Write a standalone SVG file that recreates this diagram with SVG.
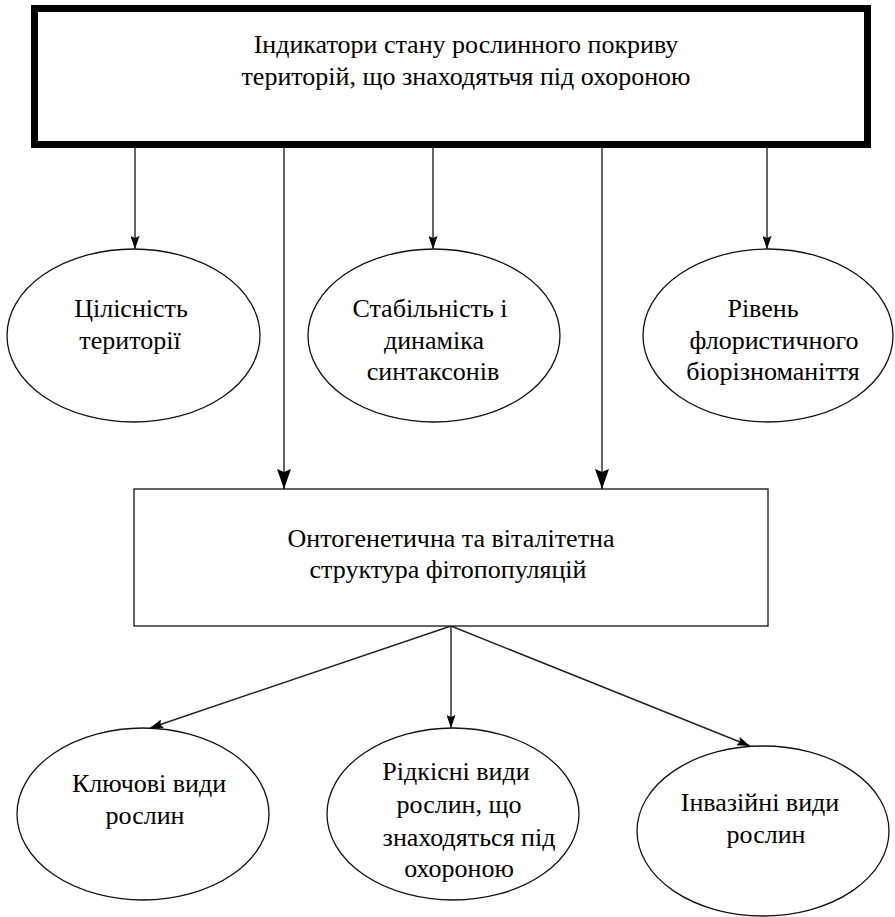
<svg xmlns="http://www.w3.org/2000/svg" width="895" height="917" viewBox="0 0 895 917">
  <defs>
    <style>
      .shape { fill: #fff; stroke: #111; stroke-width: 1.3; }
      .conn { stroke: #222; stroke-width: 1.4; fill: none; }
      .s { marker-end: url(#arrowS); }
      .l { marker-end: url(#arrowL); }
    </style>
    <marker id="arrowS" markerUnits="userSpaceOnUse" markerWidth="13" markerHeight="9" refX="13" refY="4.5" orient="auto">
      <path d="M0,0 L13,4.5 L0,9 L2,4.5 z" fill="#000"/>
    </marker>
    <marker id="arrowL" markerUnits="userSpaceOnUse" markerWidth="20" markerHeight="14" refX="20" refY="7" orient="auto">
      <path d="M0,0 L20,7 L0,14 L3,7 z" fill="#000"/>
    </marker>
  </defs>
  <rect width="895" height="917" fill="#fff"/>

  <g id="connectors">
    <line class="conn s" x1="135" y1="148" x2="135" y2="249"/>
    <line class="conn l" x1="284" y1="148" x2="284" y2="489"/>
    <line class="conn s" x1="433" y1="148" x2="433" y2="249"/>
    <line class="conn l" x1="602" y1="148" x2="602" y2="489"/>
    <line class="conn s" x1="767" y1="148" x2="767" y2="249"/>
    <line class="conn s" x1="451" y1="626" x2="150" y2="728"/>
    <line class="conn s" x1="451" y1="626" x2="451" y2="728"/>
    <line class="conn s" x1="451" y1="626" x2="750" y2="746"/>
  </g>

  <g id="top">
    <rect x="34.5" y="8.5" width="833" height="136" fill="#fff" stroke="#000" stroke-width="7"/>
    <text font-family="Liberation Serif" font-size="26" text-anchor="middle" x="466" y="53">Індикатори стану рослинного покриву</text>
    <text font-family="Liberation Serif" font-size="26" text-anchor="middle" x="466" y="85">територій, що знаходятьчя під охороною</text>
  </g>

  <g id="integrity">
    <ellipse class="shape" cx="133.5" cy="335.5" rx="126.5" ry="86.5"/>
    <text font-family="Liberation Serif" font-size="26" text-anchor="middle" x="131" y="317">Цілісність</text>
    <text font-family="Liberation Serif" font-size="26" text-anchor="middle" x="130" y="349">території</text>
  </g>

  <g id="stability">
    <ellipse class="shape" cx="434" cy="335.5" rx="126" ry="86.5"/>
    <text font-family="Liberation Serif" font-size="26" text-anchor="middle" x="430" y="317">Стабільність і</text>
    <text font-family="Liberation Serif" font-size="26" text-anchor="middle" x="434" y="349">динаміка</text>
    <text font-family="Liberation Serif" font-size="26" text-anchor="middle" x="433" y="380">синтаксонів</text>
  </g>

  <g id="diversity">
    <ellipse class="shape" cx="768" cy="335.5" rx="125" ry="86.5"/>
    <text font-family="Liberation Serif" font-size="26" text-anchor="middle" x="763" y="317">Рівень</text>
    <text font-family="Liberation Serif" font-size="26" text-anchor="middle" x="774" y="349">флористичного</text>
    <text font-family="Liberation Serif" font-size="26" text-anchor="middle" x="773" y="380">біорізноманіття</text>
  </g>

  <g id="structure">
    <rect class="shape" x="134" y="489" width="634" height="137"/>
    <text font-family="Liberation Serif" font-size="26" text-anchor="middle" x="451" y="547">Онтогенетична та віталітетна</text>
    <text font-family="Liberation Serif" font-size="26" text-anchor="middle" x="448" y="578">структура фітопопуляцій</text>
  </g>

  <g id="key">
    <ellipse class="shape" cx="143" cy="814" rx="126" ry="86"/>
    <text font-family="Liberation Serif" font-size="26" text-anchor="middle" x="149" y="792">Ключові види</text>
    <text font-family="Liberation Serif" font-size="26" text-anchor="middle" x="145" y="824">рослин</text>
  </g>

  <g id="rare">
    <ellipse class="shape" cx="453" cy="814" rx="126" ry="86"/>
    <text font-family="Liberation Serif" font-size="26" text-anchor="middle" x="456" y="780">Рідкісні види</text>
    <text font-family="Liberation Serif" font-size="26" text-anchor="middle" x="459" y="813">рослин, що</text>
    <text font-family="Liberation Serif" font-size="26" text-anchor="middle" x="469" y="846">знаходяться під</text>
    <text font-family="Liberation Serif" font-size="26" text-anchor="middle" x="459" y="877">охороною</text>
  </g>

  <g id="invasive">
    <ellipse class="shape" cx="763" cy="831" rx="126" ry="85"/>
    <text font-family="Liberation Serif" font-size="26" text-anchor="middle" x="760" y="811">Інвазійні види</text>
    <text font-family="Liberation Serif" font-size="26" text-anchor="middle" x="766" y="843">рослин</text>
  </g>
</svg>
